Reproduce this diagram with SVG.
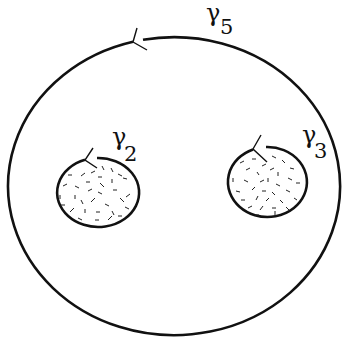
<svg xmlns="http://www.w3.org/2000/svg" width="344" height="341" viewBox="0 0 344 341">
<style>
.c{fill:none;stroke:#111;stroke-width:2.6}
.t{fill:none;stroke:#111;stroke-width:1.4}
.d line{stroke:#222;stroke-width:1}
text{font-family:"DejaVu Serif","Liberation Serif",serif;fill:#111}
.g{font-size:24px}
.s{font-size:21px}
</style>
<rect width="344" height="341" fill="#fff"/>
<g id="outer">
<path class="c" d="M143,39.8 A166 149 0 1 1 133,41.8"/>
<path class="t" d="M137,28 L133,42 L147,50"/>
<text class="g" x="206" y="20.5">γ</text><text class="s" x="220" y="34">5</text>
</g>
<g id="left">
<path class="c" d="M97,158 A41 34.5 0 1 1 85,159.8"/>
<path class="t" d="M93,148 L85,160 L97,168"/>
<g class="d">
<line x1="68" y1="175" x2="72" y2="175"/><line x1="81" y1="176" x2="85" y2="173"/><line x1="91" y1="173" x2="95" y2="171"/>
<line x1="102" y1="166" x2="104" y2="170"/><line x1="111" y1="168" x2="113" y2="172"/><line x1="118" y1="174" x2="122" y2="176"/>
<line x1="98" y1="177" x2="102" y2="177"/><line x1="63" y1="186" x2="67" y2="184"/><line x1="75" y1="186" x2="79" y2="188"/>
<line x1="86" y1="182" x2="90" y2="182"/><line x1="100" y1="183" x2="104" y2="187"/><line x1="112" y1="179" x2="112" y2="183"/>
<line x1="123" y1="178" x2="127" y2="179"/><line x1="60" y1="195" x2="60" y2="199"/><line x1="75" y1="195" x2="75" y2="199"/>
<line x1="88" y1="191" x2="92" y2="189"/><line x1="98" y1="192" x2="102" y2="194"/><line x1="113" y1="190" x2="117" y2="190"/>
<line x1="126" y1="197" x2="130" y2="194"/><line x1="61" y1="205" x2="65" y2="205"/><line x1="81" y1="200" x2="83" y2="204"/>
<line x1="91" y1="202" x2="95" y2="198"/><line x1="105" y1="204" x2="109" y2="206"/><line x1="120" y1="198" x2="124" y2="202"/>
<line x1="70" y1="212" x2="74" y2="208"/><line x1="85" y1="209" x2="85" y2="213"/><line x1="96" y1="212" x2="100" y2="212"/>
<line x1="112" y1="211" x2="114" y2="215"/><line x1="125" y1="207" x2="129" y2="209"/><line x1="78" y1="218" x2="82" y2="220"/>
<line x1="95" y1="220" x2="99" y2="220"/><line x1="108" y1="220" x2="112" y2="216"/><line x1="118" y1="216" x2="122" y2="216"/>
</g>
<text class="g" x="112" y="145">γ</text><text class="s" x="124" y="161">2</text>
</g>
<g id="right">
<path class="c" d="M266,147 A39.5 35 0 1 1 253,149.4"/>
<path class="t" d="M261,135 L253,149 L267,162"/>
<g class="d">
<line x1="240" y1="163" x2="244" y2="161"/><line x1="252" y1="159" x2="256" y2="159"/><line x1="272" y1="156" x2="276" y2="158"/>
<line x1="282" y1="160" x2="285" y2="163"/><line x1="262" y1="166" x2="266" y2="164"/><line x1="290" y1="168" x2="294" y2="169"/>
<line x1="246" y1="170" x2="250" y2="168"/><line x1="257" y1="172" x2="259" y2="175"/><line x1="270" y1="170" x2="274" y2="168"/>
<line x1="278" y1="172" x2="278" y2="176"/><line x1="288" y1="178" x2="292" y2="180"/><line x1="233" y1="178" x2="233" y2="182"/>
<line x1="244" y1="180" x2="248" y2="182"/><line x1="260" y1="182" x2="264" y2="180"/><line x1="268" y1="178" x2="268" y2="182"/>
<line x1="276" y1="184" x2="280" y2="186"/><line x1="296" y1="183" x2="300" y2="183"/><line x1="236" y1="191" x2="240" y2="192"/>
<line x1="252" y1="190" x2="255" y2="187"/><line x1="262" y1="191" x2="266" y2="191"/><line x1="272" y1="192" x2="275" y2="195"/>
<line x1="286" y1="190" x2="290" y2="192"/><line x1="241" y1="200" x2="245" y2="200"/><line x1="256" y1="200" x2="258" y2="196"/>
<line x1="266" y1="201" x2="269" y2="198"/><line x1="280" y1="200" x2="283" y2="203"/><line x1="294" y1="198" x2="297" y2="200"/>
<line x1="248" y1="208" x2="252" y2="206"/><line x1="260" y1="210" x2="263" y2="206"/><line x1="272" y1="208" x2="276" y2="208"/>
<line x1="286" y1="207" x2="289" y2="210"/><line x1="255" y1="215" x2="259" y2="215"/><line x1="275" y1="211" x2="275" y2="216"/>
</g>
<text class="g" x="302" y="142.5">γ</text><text class="s" x="314" y="158">3</text>
</g>
</svg>
